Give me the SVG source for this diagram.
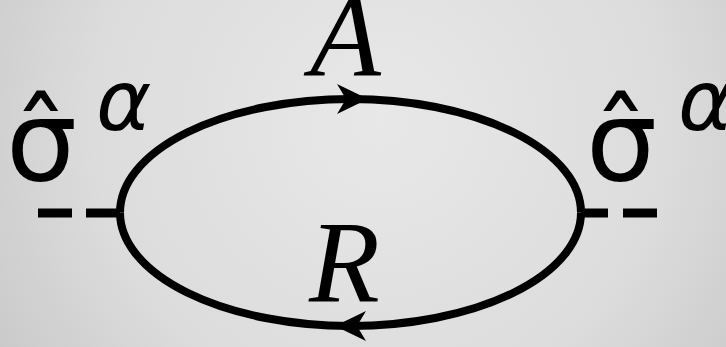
<svg xmlns="http://www.w3.org/2000/svg" width="726" height="347" viewBox="0 0 726 347">
  <defs>
    <radialGradient id="bg" cx="380" cy="120" r="480" gradientUnits="userSpaceOnUse">
      <stop offset="0" stop-color="#e8e8e8"/>
      <stop offset="0.6" stop-color="#dcdcdc"/>
      <stop offset="1" stop-color="#c6c6c6"/>
    </radialGradient>
    <path id="arrowhead" d="M0,0 L-31,-15 L-22,0 L-31,15 Z" fill="#000"/>
  </defs>
  <style>
    .prop { fill: none; stroke: #000; stroke-width: 8; }
    .ext { stroke: #000; stroke-width: 9; stroke-linecap: butt; }
    .sig { font-family: "DejaVu Sans", sans-serif; font-size: 112px; fill: #000; }
    .sup { font-family: "DejaVu Sans", sans-serif; font-style: italic; font-size: 84px; fill: #000; }
    .lbl { font-family: "Liberation Serif", serif; font-style: italic; font-size: 116px; fill: #000; }
  </style>
  <rect x="0" y="0" width="726" height="347" fill="url(#bg)"/>

  <g id="connectors">
    <path id="prop-A" class="prop" d="M120,212.5 A230.5,113.5 0 0 1 581,212.5"/>
    <path id="prop-R" class="prop" d="M581,212.5 A230.5,113.5 0 0 1 120,212.5"/>
    <use href="#arrowhead" transform="translate(368,99)"/>
    <use href="#arrowhead" transform="translate(335,326) rotate(180)"/>
    <line class="ext" x1="38" y1="213" x2="72" y2="213"/>
    <line class="ext" x1="86" y1="213" x2="120" y2="213"/>
    <line class="ext" x1="581" y1="213" x2="608" y2="213"/>
    <line class="ext" x1="623" y1="213" x2="657" y2="213"/>
  </g>

  <g id="vertex-left">
    <text class="sig" x="6" y="180">σ̂</text>
    <text class="sup" x="96" y="130">α</text>
  </g>
  <g id="vertex-right">
    <text class="sig" x="586" y="180">σ̂</text>
    <text class="sup" x="678" y="130">α</text>
  </g>
  <g id="label-A">
    <text class="lbl" x="310" y="76">A</text>
  </g>
  <g id="label-R">
    <text class="lbl" x="309" y="302">R</text>
  </g>
</svg>
